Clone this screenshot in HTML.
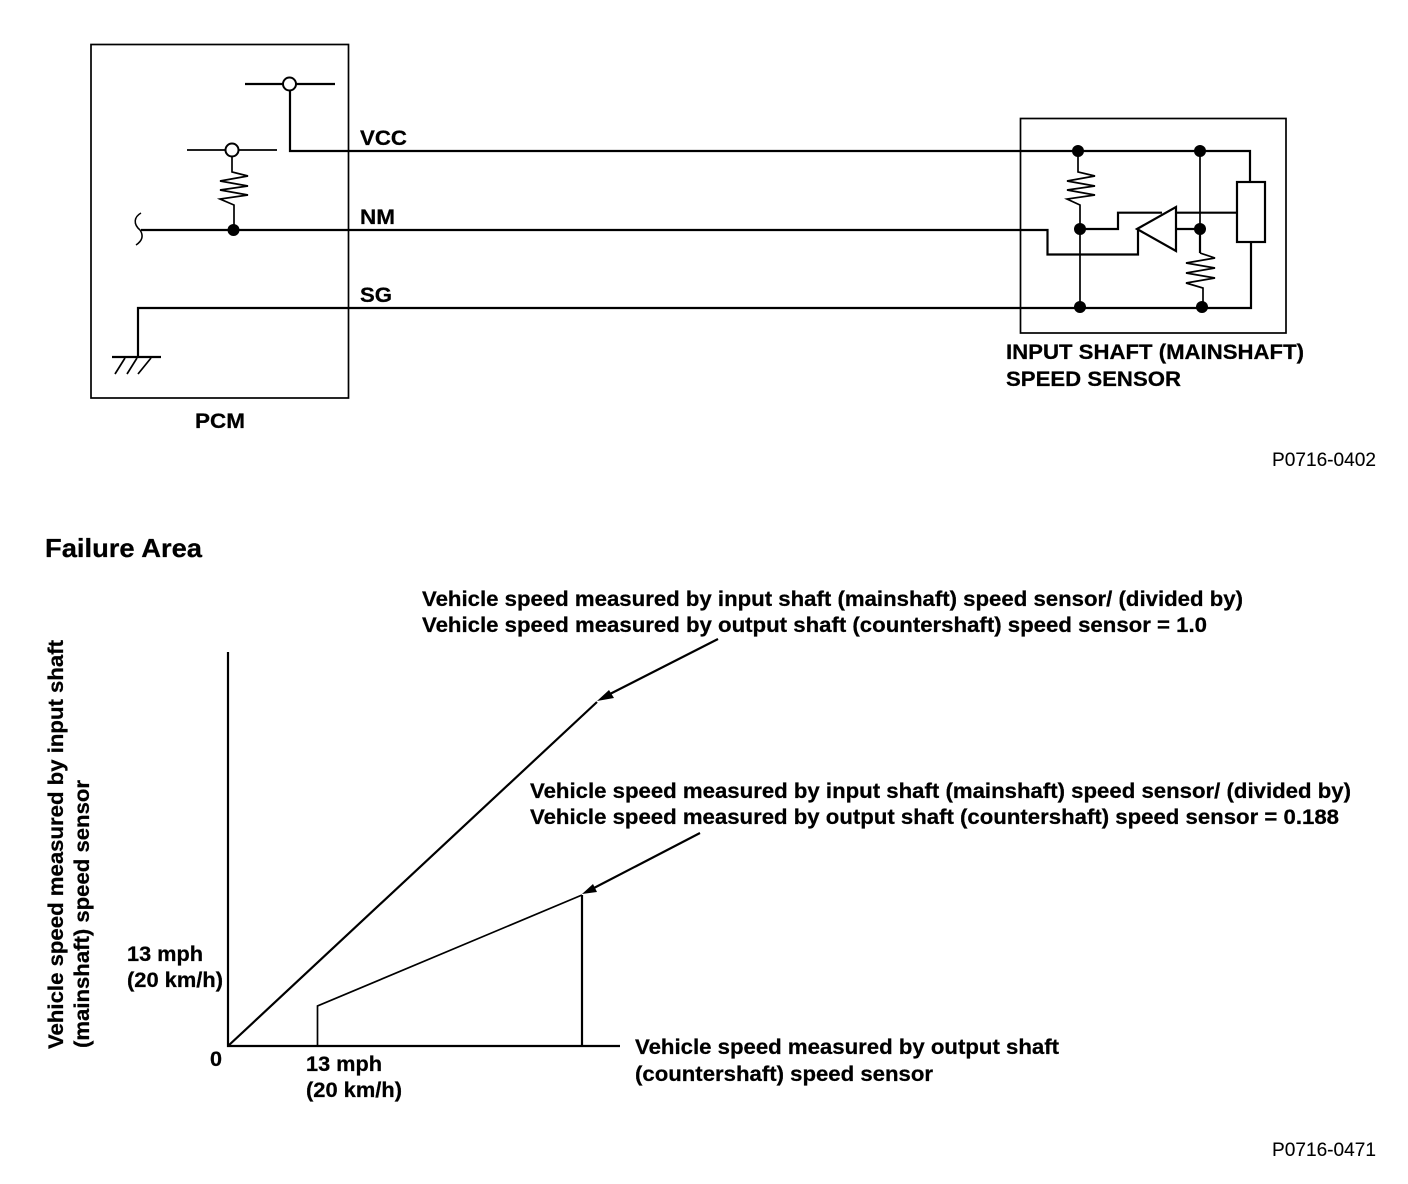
<!DOCTYPE html>
<html><head><meta charset="utf-8"><style>
html,body{margin:0;padding:0;background:#fff}
svg{display:block}
text{font-family:"Liberation Sans",sans-serif;font-weight:bold;font-size:21px;fill:#000;stroke:#000;stroke-width:.25px}
.r{font-weight:normal;font-size:19px;stroke-width:.1px}
</style></head><body>
<svg width="1408" height="1184" viewBox="0 0 1408 1184" xmlns="http://www.w3.org/2000/svg">
<g fill="none" stroke="#000" stroke-width="1.700">
<rect x="91" y="44.500" width="257.500" height="353.500"/>
<rect x="1020.500" y="118.500" width="265.500" height="214.500"/>
</g>
<g fill="none" stroke="#000" stroke-width="2.200">
<path d="M245 84H335"/>
<path d="M290 90V151H1250V182"/>
<path d="M141 230H1047.500V254.500H1138V229"/>
<path d="M138 357V308H1251V242"/>
<path d="M112 357H161"/>
<path d="M1080 229H1118V212.700H1162"/>
<path d="M1176 212.700H1237"/>
<path d="M1176 229H1200V253"/>
<path d="M1137 229L1176 207V251Z"/>
<rect x="1237" y="182" width="28" height="60"/>
<path d="M228 652V1046H620"/>
<path d="M228 1046L597 702"/>
<path d="M718 639L606 696"/>
<path d="M582 895V1046"/>
<path d="M700 833L592 889"/>
</g>
<g fill="none" stroke="#000" stroke-width="1.700">
<path d="M187 150H277"/>
<path d="M232 156V172L248 176L220 181L248 186L220 190L248 195L220 199L234 205V230"/>
<path d="M1078 151V172L1095 176L1067 181L1095 186L1067 190L1095 195L1067 199L1080 205V308"/>
<path d="M1200 151V229"/>
<path d="M1200 253L1215 258L1186 263L1215 268L1186 273L1215 278L1186 283L1203 288V308"/>
<path d="M115 374L125 358M127 374L137 358M138 374L151 358"/>
<path d="M141 213C134 217 133 224 140 230C144 236 142 241 136 245" stroke-width="1.500"/>
<path d="M317.500 1046V1006L582 895"/>
</g>
<g fill="#fff" stroke="#000" stroke-width="2">
<circle cx="289.500" cy="84" r="6.500"/>
<circle cx="232" cy="150" r="6.500"/>
</g>
<g fill="#000">
<circle cx="233.500" cy="230" r="6"/>
<circle cx="1078" cy="151" r="6"/>
<circle cx="1200" cy="151" r="6"/>
<circle cx="1080" cy="229" r="6"/>
<circle cx="1200" cy="229" r="6"/>
<circle cx="1080" cy="307" r="6"/>
<circle cx="1202" cy="307" r="6"/>
<path d="M597 701L609 690L614 698Z"/>
<path d="M582 894L593 884L597 892Z"/>
</g>
<text x="360" y="145" textLength="47" lengthAdjust="spacingAndGlyphs">VCC</text>
<text x="360" y="224" textLength="35" lengthAdjust="spacingAndGlyphs">NM</text>
<text x="360" y="302" textLength="32" lengthAdjust="spacingAndGlyphs">SG</text>
<text x="195" y="428" textLength="50" lengthAdjust="spacingAndGlyphs">PCM</text>
<text x="1006" y="359" textLength="298" lengthAdjust="spacingAndGlyphs">INPUT SHAFT (MAINSHAFT)</text>
<text x="1006" y="386" textLength="175" lengthAdjust="spacingAndGlyphs">SPEED SENSOR</text>
<text class="r" x="1272" y="466" textLength="104" lengthAdjust="spacingAndGlyphs">P0716-0402</text>
<text x="45" y="557" style="font-size:26px" textLength="157" lengthAdjust="spacingAndGlyphs">Failure Area</text>
<text x="422" y="606" textLength="821" lengthAdjust="spacingAndGlyphs">Vehicle speed measured by input shaft (mainshaft) speed sensor/ (divided by)</text>
<text x="422" y="632" textLength="785" lengthAdjust="spacingAndGlyphs">Vehicle speed measured by output shaft (countershaft) speed sensor = 1.0</text>
<text x="530" y="798" textLength="821" lengthAdjust="spacingAndGlyphs">Vehicle speed measured by input shaft (mainshaft) speed sensor/ (divided by)</text>
<text x="530" y="824" textLength="809" lengthAdjust="spacingAndGlyphs">Vehicle speed measured by output shaft (countershaft) speed sensor = 0.188</text>
<text x="127" y="961" textLength="76" lengthAdjust="spacingAndGlyphs">13 mph</text>
<text x="127" y="987" textLength="96" lengthAdjust="spacingAndGlyphs">(20 km/h)</text>
<text x="210" y="1066" textLength="12" lengthAdjust="spacingAndGlyphs">0</text>
<text x="306" y="1071" textLength="76" lengthAdjust="spacingAndGlyphs">13 mph</text>
<text x="306" y="1097" textLength="96" lengthAdjust="spacingAndGlyphs">(20 km/h)</text>
<text x="635" y="1054" textLength="424" lengthAdjust="spacingAndGlyphs">Vehicle speed measured by output shaft</text>
<text x="635" y="1081" textLength="298" lengthAdjust="spacingAndGlyphs">(countershaft) speed sensor</text>
<text class="r" x="1272" y="1156" textLength="104" lengthAdjust="spacingAndGlyphs">P0716-0471</text>
<text transform="translate(63 1049) rotate(-90)" textLength="409" lengthAdjust="spacingAndGlyphs">Vehicle speed measured by input shaft</text>
<text transform="translate(89 1048) rotate(-90)" textLength="268" lengthAdjust="spacingAndGlyphs">(mainshaft) speed sensor</text>
</svg>
</body></html>
